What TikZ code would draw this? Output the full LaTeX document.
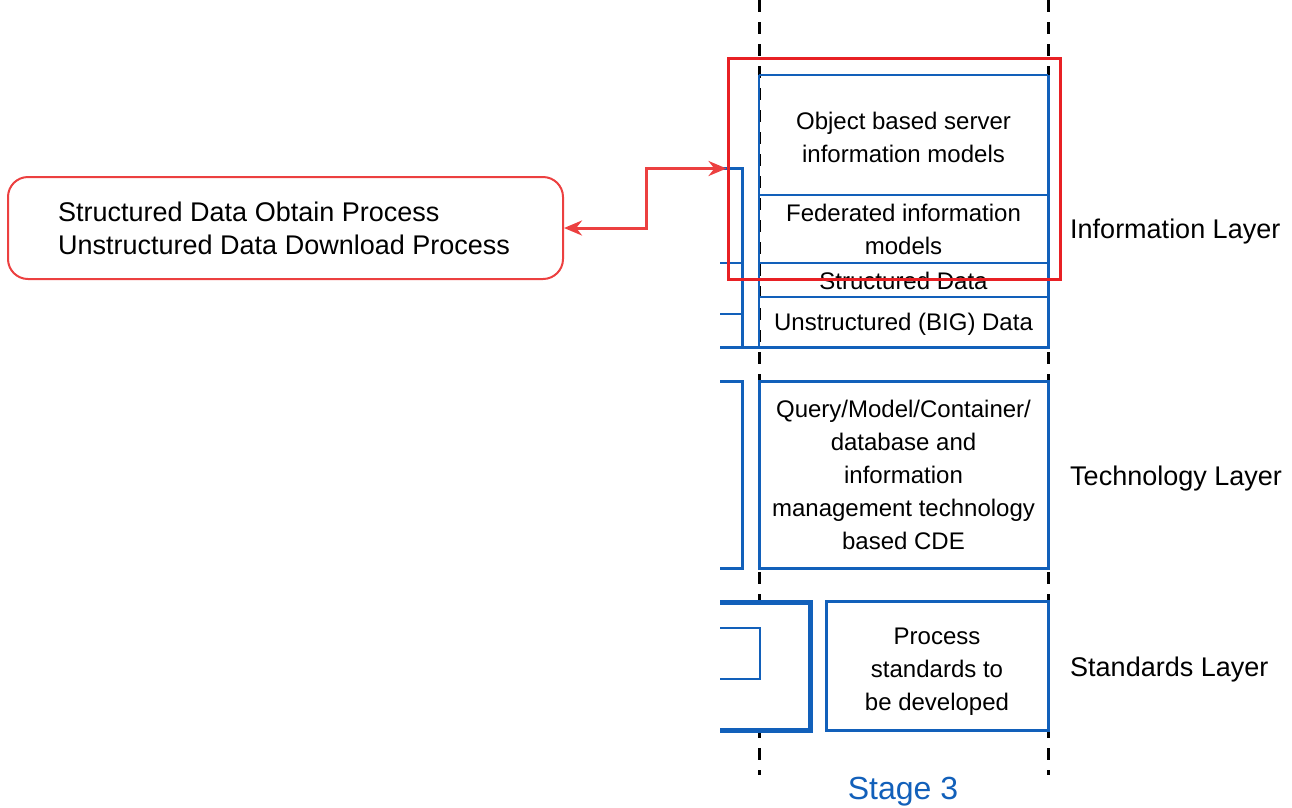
\documentclass[tikz,border=0pt]{standalone}
\usepackage{fontspec}
\setmainfont{Liberation Sans}
\usetikzlibrary{arrows.meta}
\definecolor{layerblue}{RGB}{18,96,186}
\definecolor{framered}{RGB}{232,32,36}
\definecolor{calloutred}{RGB}{236,64,64}
\tikzset{
  stagebox/.style={draw=layerblue,line width=3pt},
  thinline/.style={draw=layerblue,line width=1.5pt},
  celltext/.style={font=\fontsize{24}{33}\selectfont,align=center,inner sep=0pt},
  layerlabel/.style={font=\fontsize{27}{32}\selectfont,anchor=west,inner sep=0pt},
  stagesep/.style={draw=black,line width=3pt,dash pattern=on 12pt off 10pt},
}
\begin{document}
\begin{tikzpicture}[x=1pt,y=-1pt]
        \useasboundingbox (0,0) rectangle (1292,807);

        % stage borders
        \draw[stagesep] (759,0) -- (759,775);
        \draw[stagesep] (1048,0) -- (1048,775);

        % information layer
        \draw[thinline] (759,75) -- (1048,75);
        \draw[thinline] (759,75) -- (759,347);
        \draw[thinline] (759,195) -- (1048,195);
        \draw[thinline] (759,263) -- (1048,263);
        \draw[thinline] (759,297) -- (1048,297);
        \draw[stagebox] (1048,75) -- (1048,347) -- (720,347);
        \draw[stagebox] (720,168) -- (742,168) -- (742,347);
        \draw[thinline] (720,263) -- (742,263);
        \draw[thinline] (720,314) -- (742,314);

        \node[celltext] (objmodels) at (903.5,137.5) {Object based server\\information models};
        \node[celltext] (fedmodels) at (903.5,229.5) {Federated information\\models};
        \node[celltext] (structdata) at (903.5,281) {Structured Data};
        \node[celltext] (unstructdata) at (903.5,324) {Unstructured (BIG) Data};

        % technology layer
        \node[stagebox,celltext,minimum width=289,minimum height=187] (techbox) at (903.5,474.5)
            {Query/Model/Container/\\database and\\information\\management technology\\based CDE};
        \draw[stagebox] (720,381) -- (742,381) -- (742,568) -- (720,568);

        % standards layer
        \draw[stagebox] (826,601) rectangle (1048,730);
        \node[celltext] (stdtext) at (937,671.5) {Process\\standards to\\be developed};
        \fill[white] (720,602) rectangle (810,730);
        \draw[draw=layerblue,line width=5pt] (720,602) -- (810,602) -- (810,730) -- (720,730);
        \draw[thinline] (720,628) -- (760,628) -- (760,679) -- (720,679);

        % layer names
        \node[layerlabel] (infolayer) at (1070,232) {Information Layer};
        \node[layerlabel] (techlayer) at (1070,479) {Technology Layer};
        \node[layerlabel] (stdlayer) at (1070,670) {Standards Layer};
        \node[font=\fontsize{32}{38}\selectfont,text=layerblue,inner sep=0pt] (stage) at (903,792) {Stage 3};

        % highlighted part and processes
        \node[draw=framered,line width=3pt,minimum width=332,minimum height=221,inner sep=0pt] (redframe) at (894,168.5) {};
        \node[draw=calloutred,line width=2pt,rounded corners=20pt,minimum width=555,minimum height=102] (procbox) at (285.5,228) {};
        \node[anchor=west,align=left,inner sep=0pt,font=\fontsize{27}{33}\selectfont] (proctext) at (58,228.5)
            {Structured Data Obtain Process\\Unstructured Data Download Process};
        \draw[calloutred,line width=3pt,{Stealth[length=18pt,width=15pt]}-{Stealth[length=18pt,width=15pt]}]
            (procbox.east) -- ++(82,0) |- (redframe.west);

\end{tikzpicture}
\end{document}
